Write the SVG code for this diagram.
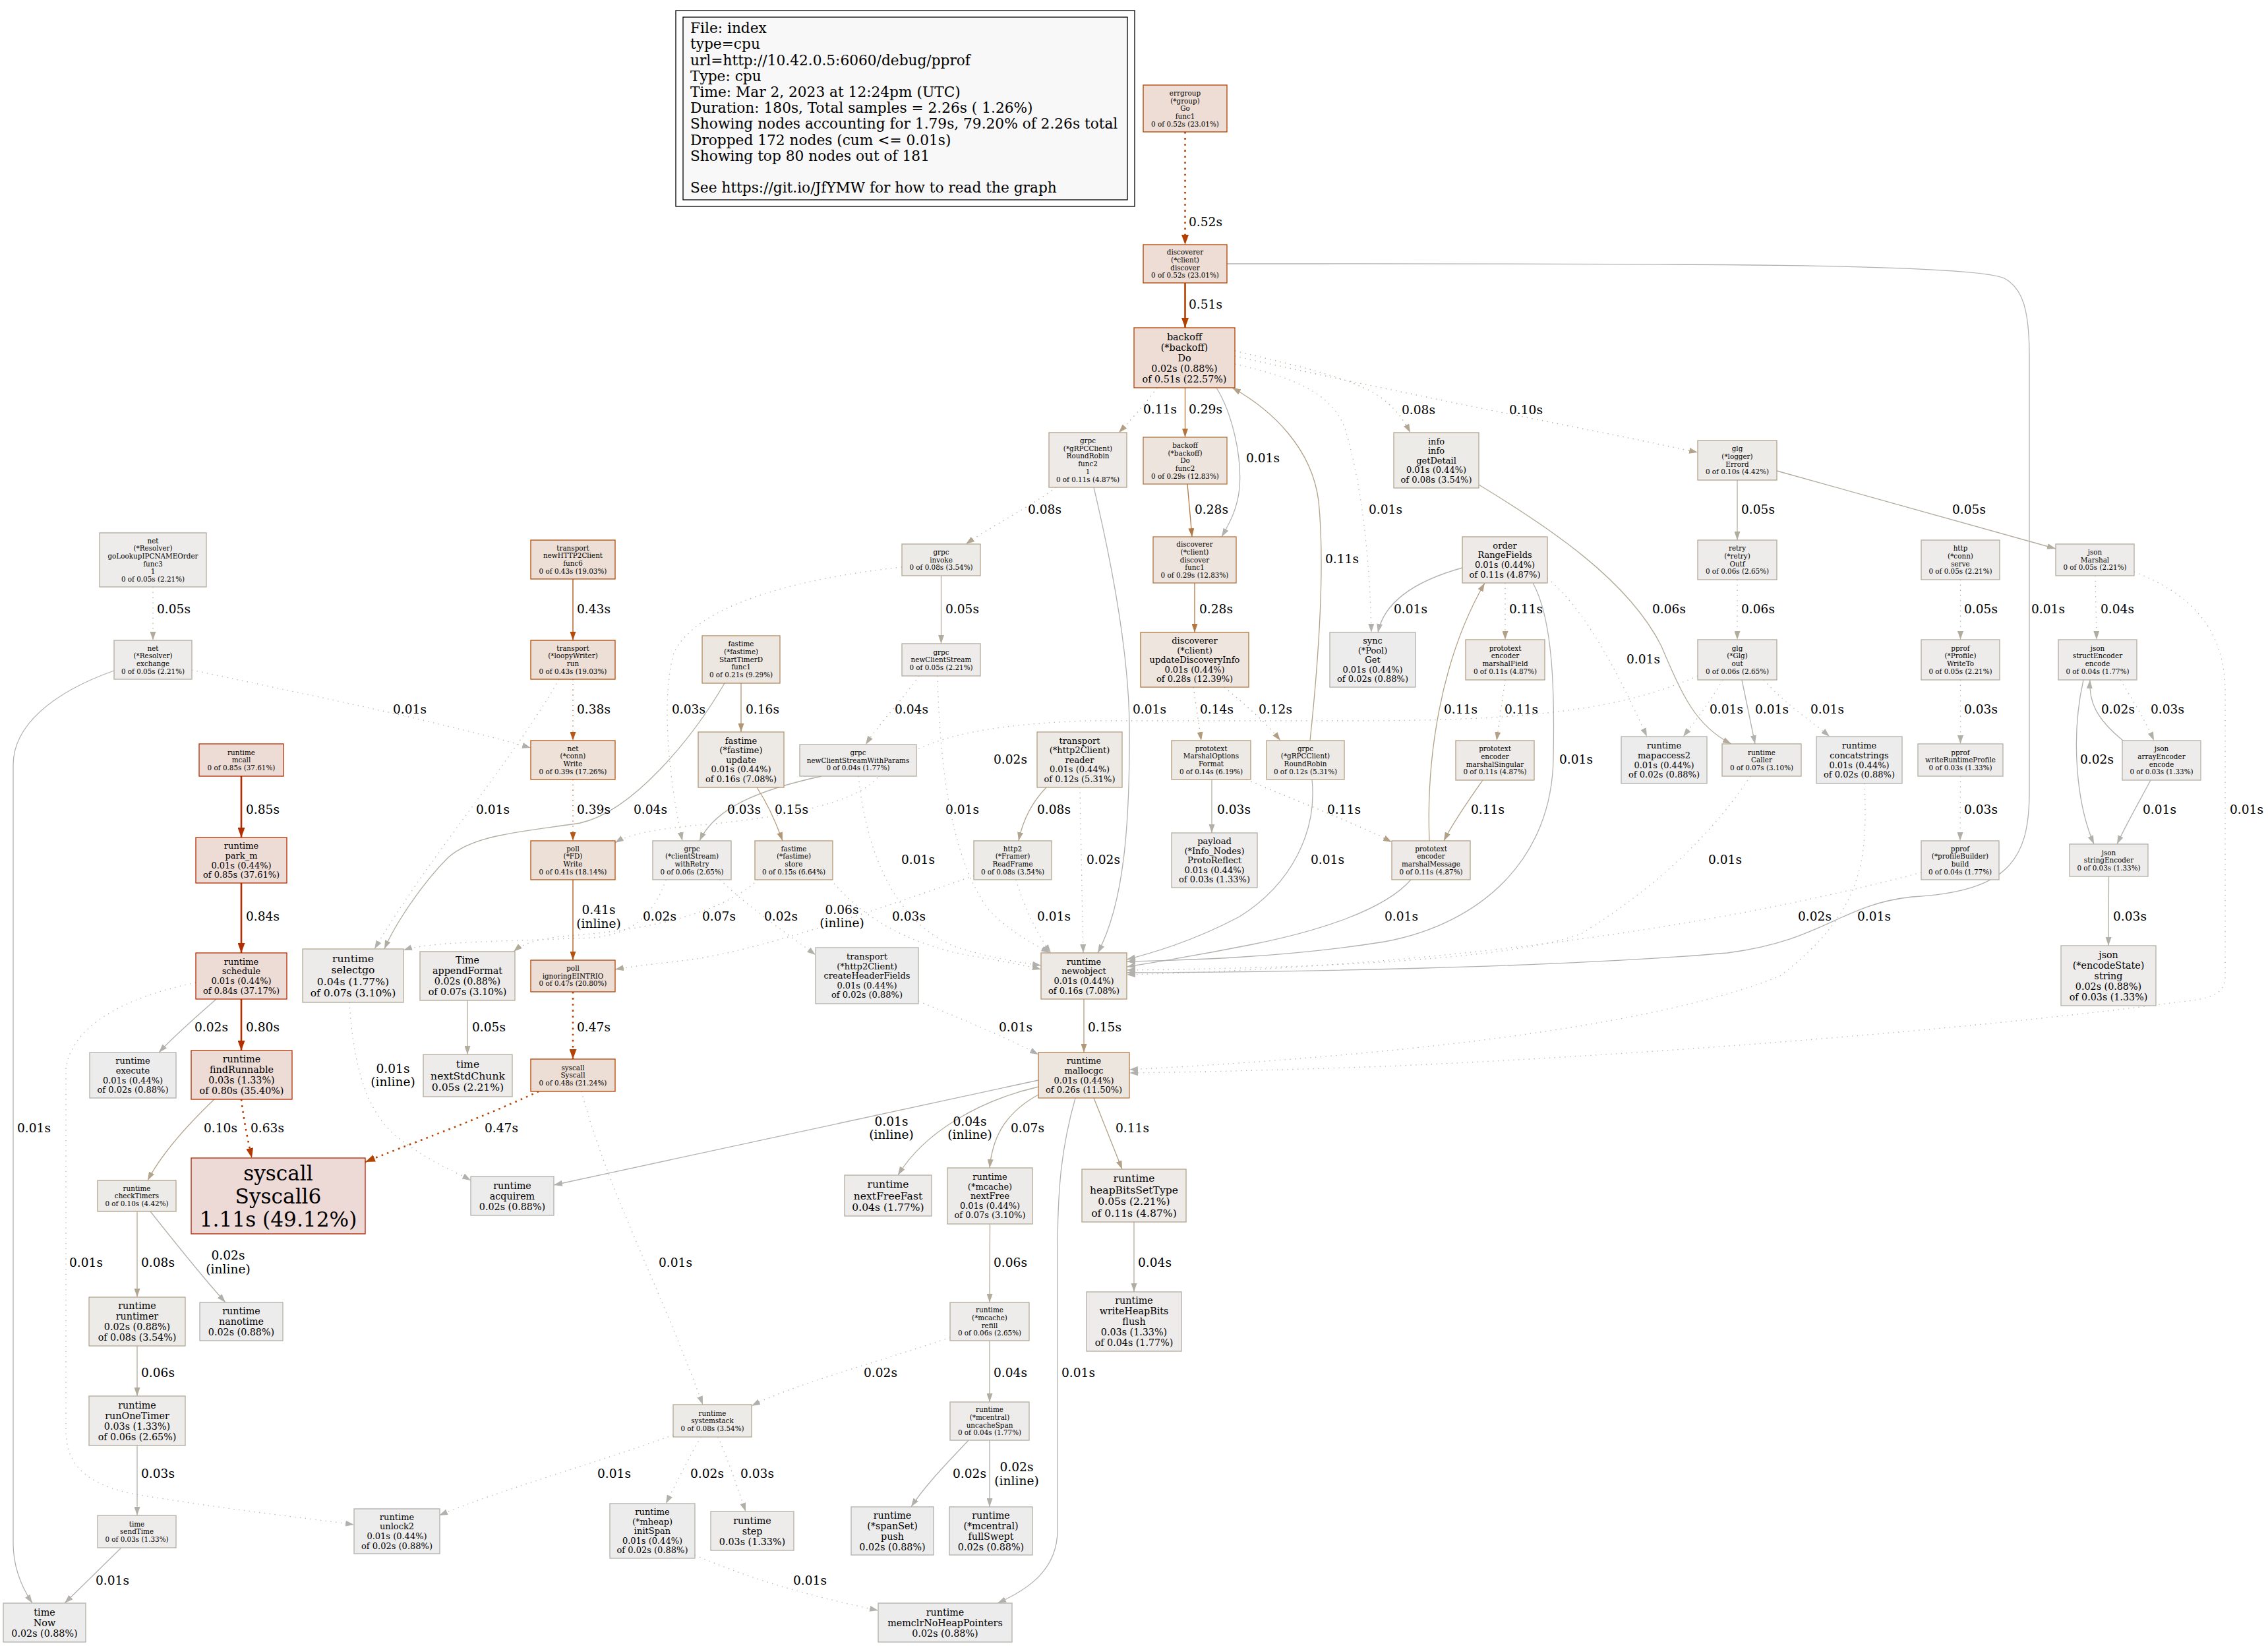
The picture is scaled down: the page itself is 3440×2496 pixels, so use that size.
<svg xmlns="http://www.w3.org/2000/svg" width="3440" height="2496" viewBox="0 0 3440 2496">
<style>
text{font-family:"DejaVu Serif","Liberation Serif",serif;fill:#000}
.node text{text-anchor:middle}
.node rect{stroke-width:1.3}
.f0{font-size:10.4px}.f1{font-size:13px}.f2{font-size:14.3px}.f3{font-size:15.6px}.f6{font-size:31.2px}
.lg{font-size:21.7px}
.el{font-size:18.6px}.elm{font-size:18.6px;text-anchor:middle}
.edge path{fill:none;stroke-width:1.3}
.edge path.w{stroke-width:2.6}
.edge path.d{stroke-dasharray:1.3 6.5}
.edge path.w.d{stroke-dasharray:2.6 6.5}
.s01{stroke:#b2b1ae;marker-end:url(#m01)}.s02{stroke:#b2b0aa;marker-end:url(#m02)}.s03{stroke:#b2afa6;marker-end:url(#m03)}
.s04{stroke:#b2ada2;marker-end:url(#m04)}.s05{stroke:#b2ac9e;marker-end:url(#m05)}.s06{stroke:#b2aa9a;marker-end:url(#m06)}
.s07{stroke:#b2a896;marker-end:url(#m07)}.s08{stroke:#b2a692;marker-end:url(#m08)}.s10{stroke:#b2a38b;marker-end:url(#m10)}
.s11{stroke:#b2a087;marker-end:url(#m11)}.s12{stroke:#b29e83;marker-end:url(#m12)}.s14{stroke:#b29a7b;marker-end:url(#m14)}
.s15{stroke:#b29877;marker-end:url(#m15)}.s16{stroke:#b29573;marker-end:url(#m16)}.s28{stroke:#b27743;marker-end:url(#m28)}
.s29{stroke:#b2743f;marker-end:url(#m29)}.s38{stroke:#b25a1c;marker-end:url(#m38)}.s39{stroke:#b25718;marker-end:url(#m39)}
.s41{stroke:#b25110;marker-end:url(#m41)}.s43{stroke:#b24b08;marker-end:url(#m43)}
.s47{stroke:#b24300;marker-end:url(#m47)}.s51{stroke:#b24000;marker-end:url(#m51)}.s52{stroke:#b23f00;marker-end:url(#m52)}
.s63{stroke:#b23800;marker-end:url(#m63)}.s80{stroke:#b22f00;marker-end:url(#m80)}.s85{stroke:#b22d00;marker-end:url(#m85)}
.k111 rect{fill:#edd9d5;stroke:#b22200}.k85 rect{fill:#eddbd5;stroke:#b22d00}.k80 rect{fill:#eddbd5;stroke:#b22f00}
.k52 rect{fill:#edddd5;stroke:#b23f00}.k51 rect{fill:#edddd5;stroke:#b24000}.k48 rect{fill:#edded5;stroke:#b24200}
.k47 rect{fill:#edded5;stroke:#b24300}.k43 rect{fill:#eddfd6;stroke:#b24b08}.k41 rect{fill:#ede0d7;stroke:#b25110}
.k39 rect{fill:#ede1d8;stroke:#b25718}.k29 rect{fill:#ede4dd;stroke:#b2743f}.k28 rect{fill:#ede5de;stroke:#b27743}
.k26 rect{fill:#ede6df;stroke:#b27c4b}.k21 rect{fill:#ede7e2;stroke:#b2895f}.k16 rect{fill:#ede9e4;stroke:#b29573}
.k15 rect{fill:#ede9e5;stroke:#b29877}.k14 rect{fill:#ede9e5;stroke:#b29a7b}.k12 rect{fill:#edeae6;stroke:#b29e83}
.k11 rect{fill:#edeae7;stroke:#b2a087}.k10 rect{fill:#edebe7;stroke:#b2a38b}.k08 rect{fill:#edebe8;stroke:#b2a692}
.k07 rect{fill:#edebe9;stroke:#b2a896}.k06 rect{fill:#edecea;stroke:#b2aa9a}.k05 rect{fill:#edecea;stroke:#b2ac9e}
.k04 rect{fill:#edeceb;stroke:#b2ada2}.k03 rect{fill:#edeceb;stroke:#b2afa6}.k02 rect{fill:#edecec;stroke:#b2b0aa}
</style>
<defs>
<marker id="m01" viewBox="0 0 13 9" refX="13" refY="4.5" markerWidth="13" markerHeight="9" markerUnits="userSpaceOnUse" orient="auto"><path d="M0,0L13,4.5L0,9z" fill="#b2b1ae"/></marker>
<marker id="m02" viewBox="0 0 13 9" refX="13" refY="4.5" markerWidth="13" markerHeight="9" markerUnits="userSpaceOnUse" orient="auto"><path d="M0,0L13,4.5L0,9z" fill="#b2b0aa"/></marker>
<marker id="m03" viewBox="0 0 13 9" refX="13" refY="4.5" markerWidth="13" markerHeight="9" markerUnits="userSpaceOnUse" orient="auto"><path d="M0,0L13,4.5L0,9z" fill="#b2afa6"/></marker>
<marker id="m04" viewBox="0 0 13 9" refX="13" refY="4.5" markerWidth="13" markerHeight="9" markerUnits="userSpaceOnUse" orient="auto"><path d="M0,0L13,4.5L0,9z" fill="#b2ada2"/></marker>
<marker id="m05" viewBox="0 0 13 9" refX="13" refY="4.5" markerWidth="13" markerHeight="9" markerUnits="userSpaceOnUse" orient="auto"><path d="M0,0L13,4.5L0,9z" fill="#b2ac9e"/></marker>
<marker id="m06" viewBox="0 0 13 9" refX="13" refY="4.5" markerWidth="13" markerHeight="9" markerUnits="userSpaceOnUse" orient="auto"><path d="M0,0L13,4.5L0,9z" fill="#b2aa9a"/></marker>
<marker id="m07" viewBox="0 0 13 9" refX="13" refY="4.5" markerWidth="13" markerHeight="9" markerUnits="userSpaceOnUse" orient="auto"><path d="M0,0L13,4.5L0,9z" fill="#b2a896"/></marker>
<marker id="m08" viewBox="0 0 13 9" refX="13" refY="4.5" markerWidth="13" markerHeight="9" markerUnits="userSpaceOnUse" orient="auto"><path d="M0,0L13,4.5L0,9z" fill="#b2a692"/></marker>
<marker id="m10" viewBox="0 0 13 9" refX="13" refY="4.5" markerWidth="13" markerHeight="9" markerUnits="userSpaceOnUse" orient="auto"><path d="M0,0L13,4.5L0,9z" fill="#b2a38b"/></marker>
<marker id="m11" viewBox="0 0 13 9" refX="13" refY="4.5" markerWidth="13" markerHeight="9" markerUnits="userSpaceOnUse" orient="auto"><path d="M0,0L13,4.5L0,9z" fill="#b2a087"/></marker>
<marker id="m12" viewBox="0 0 13 9" refX="13" refY="4.5" markerWidth="13" markerHeight="9" markerUnits="userSpaceOnUse" orient="auto"><path d="M0,0L13,4.5L0,9z" fill="#b29e83"/></marker>
<marker id="m14" viewBox="0 0 13 9" refX="13" refY="4.5" markerWidth="13" markerHeight="9" markerUnits="userSpaceOnUse" orient="auto"><path d="M0,0L13,4.5L0,9z" fill="#b29a7b"/></marker>
<marker id="m15" viewBox="0 0 13 9" refX="13" refY="4.5" markerWidth="13" markerHeight="9" markerUnits="userSpaceOnUse" orient="auto"><path d="M0,0L13,4.5L0,9z" fill="#b29877"/></marker>
<marker id="m16" viewBox="0 0 13 9" refX="13" refY="4.5" markerWidth="13" markerHeight="9" markerUnits="userSpaceOnUse" orient="auto"><path d="M0,0L13,4.5L0,9z" fill="#b29573"/></marker>
<marker id="m28" viewBox="0 0 13 9" refX="13" refY="4.5" markerWidth="13" markerHeight="9" markerUnits="userSpaceOnUse" orient="auto"><path d="M0,0L13,4.5L0,9z" fill="#b27743"/></marker>
<marker id="m29" viewBox="0 0 13 9" refX="13" refY="4.5" markerWidth="13" markerHeight="9" markerUnits="userSpaceOnUse" orient="auto"><path d="M0,0L13,4.5L0,9z" fill="#b2743f"/></marker>
<marker id="m38" viewBox="0 0 13 9" refX="13" refY="4.5" markerWidth="13" markerHeight="9" markerUnits="userSpaceOnUse" orient="auto"><path d="M0,0L13,4.5L0,9z" fill="#b25a1c"/></marker>
<marker id="m39" viewBox="0 0 13 9" refX="13" refY="4.5" markerWidth="13" markerHeight="9" markerUnits="userSpaceOnUse" orient="auto"><path d="M0,0L13,4.5L0,9z" fill="#b25718"/></marker>
<marker id="m41" viewBox="0 0 13 9" refX="13" refY="4.5" markerWidth="13" markerHeight="9" markerUnits="userSpaceOnUse" orient="auto"><path d="M0,0L13,4.5L0,9z" fill="#b25110"/></marker>
<marker id="m43" viewBox="0 0 13 9" refX="13" refY="4.5" markerWidth="13" markerHeight="9" markerUnits="userSpaceOnUse" orient="auto"><path d="M0,0L13,4.5L0,9z" fill="#b24b08"/></marker>
<marker id="m47" viewBox="0 0 15 11" refX="15" refY="5.5" markerWidth="15" markerHeight="11" markerUnits="userSpaceOnUse" orient="auto"><path d="M0,0L15,5.5L0,11z" fill="#b24300"/></marker>
<marker id="m51" viewBox="0 0 15 11" refX="15" refY="5.5" markerWidth="15" markerHeight="11" markerUnits="userSpaceOnUse" orient="auto"><path d="M0,0L15,5.5L0,11z" fill="#b24000"/></marker>
<marker id="m52" viewBox="0 0 15 11" refX="15" refY="5.5" markerWidth="15" markerHeight="11" markerUnits="userSpaceOnUse" orient="auto"><path d="M0,0L15,5.5L0,11z" fill="#b23f00"/></marker>
<marker id="m63" viewBox="0 0 15 11" refX="15" refY="5.5" markerWidth="15" markerHeight="11" markerUnits="userSpaceOnUse" orient="auto"><path d="M0,0L15,5.5L0,11z" fill="#b23800"/></marker>
<marker id="m80" viewBox="0 0 15 11" refX="15" refY="5.5" markerWidth="15" markerHeight="11" markerUnits="userSpaceOnUse" orient="auto"><path d="M0,0L15,5.5L0,11z" fill="#b22f00"/></marker>
<marker id="m85" viewBox="0 0 15 11" refX="15" refY="5.5" markerWidth="15" markerHeight="11" markerUnits="userSpaceOnUse" orient="auto"><path d="M0,0L15,5.5L0,11z" fill="#b22d00"/></marker>
</defs>
<rect x="0" y="0" width="3440" height="2496" fill="#ffffff"/>
<g id="legend">
<rect x="1025" y="16" width="696" height="297" fill="#ffffff" stroke="#000" stroke-width="1.3"/>
<rect x="1036" y="26" width="674" height="277" fill="#f8f8f8" stroke="#000" stroke-width="1.3"/>
<text class="lg"><tspan x="1047" y="50.2">File: index</tspan><tspan x="1047" y="74.4">type=cpu</tspan><tspan x="1047" y="98.6">url=http://10.42.0.5:6060/debug/pprof</tspan><tspan x="1047" y="122.8">Type: cpu</tspan><tspan x="1047" y="147">Time: Mar 2, 2023 at 12:24pm (UTC)</tspan><tspan x="1047" y="171.2">Duration: 180s, Total samples = 2.26s ( 1.26%)</tspan><tspan x="1047" y="195.4">Showing nodes accounting for 1.79s, 79.20% of 2.26s total</tspan><tspan x="1047" y="219.6">Dropped 172 nodes (cum &lt;= 0.01s)</tspan><tspan x="1047" y="243.8">Showing top 80 nodes out of 181</tspan><tspan x="1047" y="292.2">See https://git.io/JfYMW for how to read the graph</tspan></text>
</g>
<g id="connectors">
<g class="edge"><path class="s52 w d" d="M1797.5,200 L1797.5,371"/><text class="el" x="1803" y="342.7">0.52s</text></g>
<g class="edge"><path class="s51 w" d="M1797.5,429 L1797.5,497"/><text class="el" x="1803" y="467.7">0.51s</text></g>
<g class="edge"><path class="s01" d="M1861,400 C2500,400 2990,398 3040,422 C3068,437 3078,470 3078,540 L3078,1200 C3078,1300 3050,1352 2900,1360 C2790,1372 2770,1425 2620,1445 C2350,1468 1950,1474 1709,1475"/><text class="el" x="3081" y="929.7">0.01s</text></g>
<g class="edge"><path class="s11 d" d="M1755,588 C1738,612 1712,640 1697,656"/><text class="el" x="1734" y="626.7">0.11s</text></g>
<g class="edge"><path class="s29" d="M1797.5,588 L1797.5,663"/><text class="el" x="1803" y="626.7">0.29s</text></g>
<g class="edge"><path class="s01" d="M1845,588 C1868,625 1884,690 1880,740 C1877,772 1864,795 1853,814"/><text class="el" x="1890" y="700.7">0.01s</text></g>
<g class="edge"><path class="s11" d="M1987,1123 C2000,1000 2010,860 2000,760 C1990,680 1930,622 1869,588"/><text class="el" x="2010" y="853.7">0.11s</text></g>
<g class="edge"><path class="s08 d" d="M1873,532 C1980,558 2060,575 2100,607 C2118,622 2130,638 2139,656"/><text class="el" x="2126" y="627.7">0.08s</text></g>
<g class="edge"><path class="s10 d" d="M1873,540 C2050,580 2300,630 2450,660 C2510,672 2545,680 2575,686"/><text class="el" x="2289" y="627.7">0.10s</text></g>
<g class="edge"><path class="s01 d" d="M1873,552 C1960,572 2020,595 2040,650 C2065,730 2078,850 2080,959"/><text class="el" x="2076" y="778.7">0.01s</text></g>
<g class="edge"><path class="s08 d" d="M1602,739 C1560,770 1500,800 1465,825"/><text class="el" x="1559" y="778.7">0.08s</text></g>
<g class="edge"><path class="s01" d="M1659,739 C1690,870 1712,1000 1713,1100 C1714,1250 1705,1370 1665,1445"/><text class="el" x="1718" y="1081.7">0.01s</text></g>
<g class="edge"><path class="s28" d="M1801,734 L1808,814"/><text class="el" x="1812" y="778.7">0.28s</text></g>
<g class="edge"><path class="s28" d="M1812,884 L1812,959"/><text class="el" x="1819" y="929.7">0.28s</text></g>
<g class="edge"><path class="s06" d="M2243,735 C2350,800 2470,880 2520,980 C2550,1050 2570,1100 2626,1128"/><text class="el" x="2506" y="929.7">0.06s</text></g>
<g class="edge"><path class="s05" d="M2635,728 L2635,819"/><text class="el" x="2641" y="778.7">0.05s</text></g>
<g class="edge"><path class="s05" d="M2695,714 L3118,832"/><text class="el" x="2961" y="778.7">0.05s</text></g>
<g class="edge"><path class="s06 d" d="M2635,879 L2635,970"/><text class="el" x="2641" y="929.7">0.06s</text></g>
<g class="edge"><path class="s05 d" d="M2973.5,879 L2973.5,970"/><text class="el" x="2979" y="929.7">0.05s</text></g>
<g class="edge"><path class="s04 d" d="M3178,873 L3180,970"/><text class="el" x="3186" y="929.7">0.04s</text></g>
<g class="edge"><path class="s01 d" d="M3237,867 C3320,900 3375,950 3375,1050 L3375,1480 C3375,1510 3350,1515 3300,1520 C3000,1560 2500,1600 2100,1617 C1900,1624 1790,1626 1713,1627"/><text class="el" x="3382" y="1233.7">0.01s</text></g>
<g class="edge"><path class="s01" d="M2218,861 C2150,880 2100,910 2090,959"/><text class="el" x="2114" y="929.7">0.01s</text></g>
<g class="edge"><path class="s11 d" d="M2283,884 L2283,970"/><text class="el" x="2289" y="929.7">0.11s</text></g>
<g class="edge"><path class="s01 d" d="M2347,877 C2400,920 2450,1010 2498,1117"/><text class="el" x="2467" y="1005.7">0.01s</text></g>
<g class="edge"><path class="s01" d="M2325,884 C2356,940 2358,1050 2356,1150 C2354,1300 2250,1400 2100,1428 C1950,1452 1800,1456 1709,1458"/><text class="el" x="2365" y="1157.7">0.01s</text></g>
<g class="edge"><path class="s02 d" d="M2575,1025 C2450,1080 2300,1093 2050,1093 L1650,1093 C1450,1100 1380,1130 1330,1180 C1300,1215 1200,1240 1050,1252 C990,1258 952,1266 933,1278"/><text class="el" x="1507" y="1157.7">0.02s</text></g>
<g class="edge"><path class="s01 d" d="M2613,1031 C2590,1070 2570,1095 2553,1117"/><text class="el" x="2593" y="1081.7">0.01s</text></g>
<g class="edge"><path class="s01" d="M2642,1031 L2662,1128"/><text class="el" x="2662" y="1081.7">0.01s</text></g>
<g class="edge"><path class="s01 d" d="M2675,1031 C2710,1070 2750,1095 2775,1117"/><text class="el" x="2746" y="1081.7">0.01s</text></g>
<g class="edge"><path class="s03 d" d="M2973.5,1031 L2973.5,1128"/><text class="el" x="2979" y="1081.7">0.03s</text></g>
<g class="edge"><path class="s03 d" d="M3216,1031 C3240,1070 3255,1095 3267,1123"/><text class="el" x="3262" y="1081.7">0.03s</text></g>
<g class="edge"><path class="s02" d="M3220,1123 C3180,1090 3168,1065 3170,1031"/><text class="el" x="3187" y="1081.7">0.02s</text></g>
<g class="edge"><path class="s02" d="M3160,1031 C3140,1120 3150,1220 3176,1280"/><text class="el" x="3155" y="1157.7">0.02s</text></g>
<g class="edge"><path class="s01" d="M3262,1183 C3245,1215 3225,1250 3211,1280"/><text class="el" x="3250" y="1233.7">0.01s</text></g>
<g class="edge"><path class="s03 d" d="M2973.5,1177 L2973,1275"/><text class="el" x="2979" y="1233.7">0.03s</text></g>
<g class="edge"><path class="s03" d="M3198.5,1329 L3198,1434"/><text class="el" x="3205" y="1395.7">0.03s</text></g>
<g class="edge"><path class="s11 d" d="M2283,1031 L2270,1123"/><text class="el" x="2282" y="1081.7">0.11s</text></g>
<g class="edge"><path class="s11" d="M2249,1183 C2230,1210 2205,1245 2190,1275"/><text class="el" x="2231" y="1233.7">0.11s</text></g>
<g class="edge"><path class="s11" d="M2168,1275 C2163,1150 2185,1000 2252,884"/><text class="el" x="2190" y="1081.7">0.11s</text></g>
<g class="edge"><path class="s11 d" d="M1890,1182 C1980,1220 2060,1250 2111,1277"/><text class="el" x="2013" y="1233.7">0.11s</text></g>
<g class="edge"><path class="s03" d="M1838,1182 L1838,1263"/><text class="el" x="1846" y="1233.7">0.03s</text></g>
<g class="edge"><path class="s14 d" d="M1810,1042 L1822,1123"/><text class="el" x="1820" y="1081.7">0.14s</text></g>
<g class="edge"><path class="s12 d" d="M1857,1042 C1890,1070 1920,1095 1942,1123"/><text class="el" x="1909" y="1081.7">0.12s</text></g>
<g class="edge"><path class="s01" d="M1990,1182 C1998,1260 1960,1340 1880,1390 C1820,1422 1760,1442 1709,1455"/><text class="el" x="1988" y="1309.7">0.01s</text></g>
<g class="edge"><path class="s01" d="M2140,1334 C2100,1380 2000,1412 1900,1432 C1820,1448 1760,1458 1709,1466"/><text class="el" x="2100" y="1395.7">0.01s</text></g>
<g class="edge"><path class="s01 d" d="M2655,1177 C2600,1260 2520,1340 2400,1415 C2300,1455 2000,1468 1709,1471"/><text class="el" x="2591" y="1309.7">0.01s</text></g>
<g class="edge"><path class="s02 d" d="M2914,1323 C2700,1380 2300,1462 1709,1478"/><text class="el" x="2727" y="1395.7">0.02s</text></g>
<g class="edge"><path class="s01 d" d="M2828,1188 C2832,1300 2830,1380 2700,1480 C2500,1560 2100,1602 1713,1622"/><text class="el" x="2817" y="1395.7">0.01s</text></g>
<g class="edge"><path class="s16" d="M1124,1036 L1124,1110"/><text class="el" x="1131" y="1081.7">0.16s</text></g>
<g class="edge"><path class="s04" d="M1099,1036 C1050,1120 960,1230 880,1248 C790,1262 720,1265 680,1300 C640,1340 600,1400 583,1439"/><text class="el" x="961" y="1233.7">0.04s</text></g>
<g class="edge"><path class="s15" d="M1148,1194 C1165,1220 1178,1250 1187,1275"/><text class="el" x="1175" y="1233.7">0.15s</text></g>
<g class="edge"><path class="s05" d="M1427.5,873 L1427.5,976"/><text class="el" x="1434" y="929.7">0.05s</text></g>
<g class="edge"><path class="s03 d" d="M1368,860 C1200,878 1055,920 1022,990 C1005,1050 1010,1160 1035,1275"/><text class="el" x="1019" y="1081.7">0.03s</text></g>
<g class="edge"><path class="s04 d" d="M1394,1025 C1370,1060 1335,1095 1313,1129"/><text class="el" x="1357" y="1081.7">0.04s</text></g>
<g class="edge"><path class="s01 d" d="M1422,1025 C1425,1150 1440,1300 1500,1380 C1540,1420 1570,1432 1592,1445"/><text class="el" x="1434" y="1233.7">0.01s</text></g>
<g class="edge"><path class="s03" d="M1246,1177 C1150,1198 1085,1225 1061,1275"/><text class="el" x="1103" y="1233.7">0.03s</text></g>
<g class="edge"><path class="s01 d" d="M1302,1177 C1315,1300 1360,1400 1450,1436 C1500,1452 1550,1460 1579,1464"/><text class="el" x="1367" y="1309.7">0.01s</text></g>
<g class="edge"><path class="s08" d="M1587,1194 C1562,1220 1550,1250 1545,1275"/><text class="el" x="1573" y="1233.7">0.08s</text></g>
<g class="edge"><path class="s02 d" d="M1638,1194 L1643,1445"/><text class="el" x="1648" y="1309.7">0.02s</text></g>
<g class="edge"><path class="s01 d" d="M1541,1334 C1555,1380 1575,1420 1594,1445"/><text class="el" x="1573" y="1395.7">0.01s</text></g>
<g class="edge"><path class="s06 d" d="M1477,1328 C1300,1390 1150,1440 1050,1455 C990,1462 955,1466 933,1470"/><text class="elm" x="1277" y="1385.7">0.06s</text><text class="elm" x="1277" y="1405.7">(inline)</text></g>
<g class="edge"><path class="s07 d" d="M1150,1334 C1100,1380 1000,1410 850,1420 C810,1425 792,1432 779,1443"/><text class="el" x="1065" y="1395.7">0.07s</text></g>
<g class="edge"><path class="s02 d" d="M1010,1334 C990,1390 960,1415 900,1422 C750,1428 650,1428 612,1441"/><text class="el" x="975" y="1395.7">0.02s</text></g>
<g class="edge"><path class="s02 d" d="M1092,1334 C1140,1380 1200,1420 1237,1448"/><text class="el" x="1159" y="1395.7">0.02s</text></g>
<g class="edge"><path class="s03 d" d="M1260,1334 C1300,1380 1350,1420 1450,1445 C1500,1455 1550,1462 1579,1470"/><text class="el" x="1353" y="1395.7">0.03s</text></g>
<g class="edge"><path class="s01 d" d="M1393,1518 C1470,1550 1530,1575 1575,1599"/><text class="el" x="1515" y="1563.7">0.01s</text></g>
<g class="edge"><path class="s15" d="M1644,1515 L1644,1596"/><text class="el" x="1650" y="1563.7">0.15s</text></g>
<g class="edge"><path class="s01" d="M1575,1638 L840,1797"/><text class="elm" x="1352" y="1706.7">0.01s</text><text class="elm" x="1352" y="1726.7">(inline)</text></g>
<g class="edge"><path class="s04" d="M1575,1648 C1480,1670 1400,1720 1362,1782"/><text class="elm" x="1471" y="1706.7">0.04s</text><text class="elm" x="1471" y="1726.7">(inline)</text></g>
<g class="edge"><path class="s07" d="M1575,1660 C1520,1690 1505,1730 1501,1771"/><text class="el" x="1533" y="1716.7">0.07s</text></g>
<g class="edge"><path class="s11" d="M1659,1665 L1702,1773"/><text class="el" x="1692" y="1716.7">0.11s</text></g>
<g class="edge"><path class="s01" d="M1631,1665 C1610,1740 1604,1800 1604,1900 L1604,2320 C1604,2380 1560,2410 1513,2431"/><text class="el" x="1610" y="2087.7">0.01s</text></g>
<g class="edge"><path class="s04" d="M1720,1853 L1720,1959"/><text class="el" x="1726" y="1920.7">0.04s</text></g>
<g class="edge"><path class="s06" d="M1501.5,1856 L1501,1975"/><text class="el" x="1507" y="1920.7">0.06s</text></g>
<g class="edge"><path class="s04" d="M1501,2033 L1501,2126"/><text class="el" x="1507" y="2087.7">0.04s</text></g>
<g class="edge"><path class="s02 d" d="M1441,2028 C1350,2060 1200,2100 1140,2132"/><text class="el" x="1310" y="2087.7">0.02s</text></g>
<g class="edge"><path class="s02" d="M1469,2184 C1440,2215 1405,2250 1382,2285"/><text class="el" x="1445" y="2240.7">0.02s</text></g>
<g class="edge"><path class="s02" d="M1501,2184 L1501,2285"/><text class="elm" x="1542" y="2230.7">0.02s</text><text class="elm" x="1542" y="2251.7">(inline)</text></g>
<g class="edge"><path class="s01 d" d="M1021,2176 C900,2220 750,2262 666,2298"/><text class="el" x="906" y="2240.7">0.01s</text></g>
<g class="edge"><path class="s02 d" d="M1063,2179 C1045,2210 1025,2250 1010,2280"/><text class="el" x="1047" y="2240.7">0.02s</text></g>
<g class="edge"><path class="s03 d" d="M1089,2179 C1105,2215 1120,2260 1131,2292"/><text class="el" x="1123" y="2240.7">0.03s</text></g>
<g class="edge"><path class="s01 d" d="M1054,2358 C1150,2400 1250,2425 1332,2442"/><text class="el" x="1203" y="2402.7">0.01s</text></g>
<g class="edge"><path class="s01 d" d="M882,1655 C920,1800 1000,1950 1066,2130"/><text class="el" x="999" y="1920.7">0.01s</text></g>
<g class="edge"><path class="s47 w d" d="M817,1655 C720,1700 620,1735 554,1762"/><text class="el" x="735" y="1716.7">0.47s</text></g>
<g class="edge"><path class="s47 w d" d="M869,1504 L869,1606"/><text class="el" x="875" y="1563.7">0.47s</text></g>
<g class="edge"><path class="s41" d="M869,1334 L869,1456"/><text class="elm" x="908" y="1385.7">0.41s</text><text class="elm" x="908" y="1406.7">(inline)</text></g>
<g class="edge"><path class="s39 d" d="M869,1182 L869,1275"/><text class="el" x="875" y="1233.7">0.39s</text></g>
<g class="edge"><path class="s38 d" d="M869,1030 L869,1123"/><text class="el" x="875" y="1081.7">0.38s</text></g>
<g class="edge"><path class="s43" d="M869,878 L869,971"/><text class="el" x="875" y="929.7">0.43s</text></g>
<g class="edge"><path class="s01 d" d="M848,1030 C780,1150 650,1300 568,1439"/><text class="el" x="722" y="1233.7">0.01s</text></g>
<g class="edge"><path class="s01 d" d="M291,1016 C450,1050 650,1090 805,1134"/><text class="el" x="596" y="1081.7">0.01s</text></g>
<g class="edge"><path class="s05 d" d="M232,890 L232,971"/><text class="el" x="238" y="929.7">0.05s</text></g>
<g class="edge"><path class="s01" d="M173,1017 C80,1050 20,1100 20,1160 L20,2340 C20,2380 35,2410 49,2431"/><text class="el" x="26" y="1716.7">0.01s</text></g>
<g class="edge"><path class="s85 w" d="M366,1177 L366,1270"/><text class="el" x="373" y="1233.7">0.85s</text></g>
<g class="edge"><path class="s85 w" d="M366,1339 L366,1445"/><text class="el" x="373" y="1395.7">0.84s</text></g>
<g class="edge"><path class="s80 w" d="M366,1515 L366,1593"/><text class="el" x="373" y="1563.7">0.80s</text></g>
<g class="edge"><path class="s02" d="M328,1515 C300,1540 265,1570 241,1596"/><text class="el" x="295" y="1563.7">0.02s</text></g>
<g class="edge"><path class="s01 d" d="M297,1490 C200,1510 110,1550 100,1620 L100,2170 C100,2220 130,2250 200,2265 C350,2290 450,2300 537,2312"/><text class="el" x="105" y="1920.7">0.01s</text></g>
<g class="edge"><path class="s63 w d" d="M366,1667 C370,1700 376,1730 382,1756"/><text class="el" x="380" y="1716.7">0.63s</text></g>
<g class="edge"><path class="s10" d="M325,1667 C280,1710 245,1750 224,1790"/><text class="el" x="309" y="1716.7">0.10s</text></g>
<g class="edge"><path class="s08" d="M208,1837 L208,1967"/><text class="el" x="214" y="1920.7">0.08s</text></g>
<g class="edge"><path class="s02" d="M228,1837 C270,1890 310,1940 342,1975"/><text class="elm" x="346" y="1909.7">0.02s</text><text class="elm" x="346" y="1930.7">(inline)</text></g>
<g class="edge"><path class="s06" d="M208,2041 L208,2117"/><text class="el" x="214" y="2087.7">0.06s</text></g>
<g class="edge"><path class="s03" d="M208,2192 L208,2298"/><text class="el" x="214" y="2240.7">0.03s</text></g>
<g class="edge"><path class="s01" d="M184,2347 C150,2380 120,2410 98,2431"/><text class="el" x="145" y="2402.7">0.01s</text></g>
<g class="edge"><path class="s01 d" d="M530,1520 C535,1600 550,1680 600,1722 C650,1762 690,1776 714,1790"/><text class="elm" x="596" y="1626.7">0.01s</text><text class="elm" x="596" y="1646.7">(inline)</text></g>
<g class="edge"><path class="s05" d="M709,1517 L709,1599"/><text class="el" x="716" y="1563.7">0.05s</text></g>
</g>
<g id="nodes">
<g id="n-errgroup" class="node k52"><rect x="1734" y="129" width="127" height="71"/><text class="f0"><tspan x="1797.5" y="144.8">errgroup</tspan><tspan x="1797.5" y="156.5">(*group)</tspan><tspan x="1797.5" y="168.2">Go</tspan><tspan x="1797.5" y="179.9">func1</tspan><tspan x="1797.5" y="191.6">0 of 0.52s (23.01%)</tspan></text></g>
<g id="n-discover" class="node k52"><rect x="1734" y="371" width="127" height="58"/><text class="f0"><tspan x="1797.5" y="386.2">discoverer</tspan><tspan x="1797.5" y="397.9">(*client)</tspan><tspan x="1797.5" y="409.6">discover</tspan><tspan x="1797.5" y="421.3">0 of 0.52s (23.01%)</tspan></text></g>
<g id="n-backoffDo" class="node k51"><rect x="1720" y="497" width="153" height="91"/><text class="f2"><tspan x="1796.5" y="515.6">backoff</tspan><tspan x="1796.5" y="531.6">(*backoff)</tspan><tspan x="1796.5" y="547.6">Do</tspan><tspan x="1796.5" y="563.6">0.02s (0.88%)</tspan><tspan x="1796.5" y="579.6">of 0.51s (22.57%)</tspan></text></g>
<g id="n-rrfunc2" class="node k11"><rect x="1591" y="656" width="118" height="83"/><text class="f0"><tspan x="1650" y="672">grpc</tspan><tspan x="1650" y="683.7">(*gRPCClient)</tspan><tspan x="1650" y="695.4">RoundRobin</tspan><tspan x="1650" y="707.1">func2</tspan><tspan x="1650" y="718.8">1</tspan><tspan x="1650" y="730.5">0 of 0.11s (4.87%)</tspan></text></g>
<g id="n-boDoFunc2" class="node k29"><rect x="1734" y="663" width="127" height="71"/><text class="f0"><tspan x="1797.5" y="678.8">backoff</tspan><tspan x="1797.5" y="690.5">(*backoff)</tspan><tspan x="1797.5" y="702.2">Do</tspan><tspan x="1797.5" y="713.9">func2</tspan><tspan x="1797.5" y="725.6">0 of 0.29s (12.83%)</tspan></text></g>
<g id="n-info" class="node k08"><rect x="2114" y="656" width="129" height="84"/><text class="f1"><tspan x="2178.5" y="673.5">info</tspan><tspan x="2178.5" y="688.1">info</tspan><tspan x="2178.5" y="702.7">getDetail</tspan><tspan x="2178.5" y="717.3">0.01s (0.44%)</tspan><tspan x="2178.5" y="731.9">of 0.08s (3.54%)</tspan></text></g>
<g id="n-glgErrord" class="node k10"><rect x="2575" y="668" width="120" height="60"/><text class="f0"><tspan x="2635" y="684.2">glg</tspan><tspan x="2635" y="695.9">(*logger)</tspan><tspan x="2635" y="707.6">Errord</tspan><tspan x="2635" y="719.3">0 of 0.10s (4.42%)</tspan></text></g>
<g id="n-netGoLookup" class="node k05"><rect x="151" y="808" width="162" height="82"/><text class="f0"><tspan x="232" y="823.5">net</tspan><tspan x="232" y="835.2">(*Resolver)</tspan><tspan x="232" y="846.9">goLookupIPCNAMEOrder</tspan><tspan x="232" y="858.6">func3</tspan><tspan x="232" y="870.3">1</tspan><tspan x="232" y="882">0 of 0.05s (2.21%)</tspan></text></g>
<g id="n-transNew" class="node k43"><rect x="805" y="819" width="128" height="59"/><text class="f0"><tspan x="869" y="834.7">transport</tspan><tspan x="869" y="846.4">newHTTP2Client</tspan><tspan x="869" y="858.1">func6</tspan><tspan x="869" y="869.8">0 of 0.43s (19.03%)</tspan></text></g>
<g id="n-grpcInvoke" class="node k08"><rect x="1368" y="825" width="119" height="48"/><text class="f0"><tspan x="1427.5" y="841">grpc</tspan><tspan x="1427.5" y="852.7">invoke</tspan><tspan x="1427.5" y="864.4">0 of 0.08s (3.54%)</tspan></text></g>
<g id="n-discFunc1" class="node k29"><rect x="1749" y="814" width="126" height="70"/><text class="f0"><tspan x="1812" y="829.3">discoverer</tspan><tspan x="1812" y="841">(*client)</tspan><tspan x="1812" y="852.7">discover</tspan><tspan x="1812" y="864.4">func1</tspan><tspan x="1812" y="876.1">0 of 0.29s (12.83%)</tspan></text></g>
<g id="n-order" class="node k11"><rect x="2218" y="814" width="129" height="70"/><text class="f1"><tspan x="2282.5" y="831.8">order</tspan><tspan x="2282.5" y="846.4">RangeFields</tspan><tspan x="2282.5" y="861">0.01s (0.44%)</tspan><tspan x="2282.5" y="875.6">of 0.11s (4.87%)</tspan></text></g>
<g id="n-retry" class="node k06"><rect x="2575" y="819" width="120" height="60"/><text class="f0"><tspan x="2635" y="835.2">retry</tspan><tspan x="2635" y="846.9">(*retry)</tspan><tspan x="2635" y="858.6">Outf</tspan><tspan x="2635" y="870.3">0 of 0.06s (2.65%)</tspan></text></g>
<g id="n-http" class="node k05"><rect x="2914" y="819" width="119" height="60"/><text class="f0"><tspan x="2973.5" y="835.2">http</tspan><tspan x="2973.5" y="846.9">(*conn)</tspan><tspan x="2973.5" y="858.6">serve</tspan><tspan x="2973.5" y="870.3">0 of 0.05s (2.21%)</tspan></text></g>
<g id="n-jsonMarshal" class="node k05"><rect x="3118" y="825" width="119" height="48"/><text class="f0"><tspan x="3177.5" y="841">json</tspan><tspan x="3177.5" y="852.7">Marshal</tspan><tspan x="3177.5" y="864.4">0 of 0.05s (2.21%)</tspan></text></g>
<g id="n-fastimeStart" class="node k21"><rect x="1065" y="964" width="118" height="72"/><text class="f0"><tspan x="1124" y="980.3">fastime</tspan><tspan x="1124" y="992">(*fastime)</tspan><tspan x="1124" y="1003.7">StartTimerD</tspan><tspan x="1124" y="1015.4">func1</tspan><tspan x="1124" y="1027.1">0 of 0.21s (9.29%)</tspan></text></g>
<g id="n-netExchange" class="node k05"><rect x="173" y="971" width="118" height="59"/><text class="f0"><tspan x="232" y="986.7">net</tspan><tspan x="232" y="998.4">(*Resolver)</tspan><tspan x="232" y="1010.1">exchange</tspan><tspan x="232" y="1021.8">0 of 0.05s (2.21%)</tspan></text></g>
<g id="n-loopy" class="node k43"><rect x="805" y="971" width="128" height="59"/><text class="f0"><tspan x="869" y="986.7">transport</tspan><tspan x="869" y="998.4">(*loopyWriter)</tspan><tspan x="869" y="1010.1">run</tspan><tspan x="869" y="1021.8">0 of 0.43s (19.03%)</tspan></text></g>
<g id="n-newClientStream" class="node k05"><rect x="1368" y="976" width="119" height="49"/><text class="f0"><tspan x="1427.5" y="992.5">grpc</tspan><tspan x="1427.5" y="1004.2">newClientStream</tspan><tspan x="1427.5" y="1015.9">0 of 0.05s (2.21%)</tspan></text></g>
<g id="n-updateDisc" class="node k28"><rect x="1730" y="959" width="164" height="83"/><text class="f1"><tspan x="1812" y="976">discoverer</tspan><tspan x="1812" y="990.6">(*client)</tspan><tspan x="1812" y="1005.2">updateDiscoveryInfo</tspan><tspan x="1812" y="1019.8">0.01s (0.44%)</tspan><tspan x="1812" y="1034.4">of 0.28s (12.39%)</tspan></text></g>
<g id="n-syncPool" class="node k02"><rect x="2017" y="959" width="130" height="83"/><text class="f1"><tspan x="2082" y="976">sync</tspan><tspan x="2082" y="990.6">(*Pool)</tspan><tspan x="2082" y="1005.2">Get</tspan><tspan x="2082" y="1019.8">0.01s (0.44%)</tspan><tspan x="2082" y="1034.4">of 0.02s (0.88%)</tspan></text></g>
<g id="n-marshalField" class="node k11"><rect x="2223" y="970" width="120" height="61"/><text class="f0"><tspan x="2283" y="986.7">prototext</tspan><tspan x="2283" y="998.4">encoder</tspan><tspan x="2283" y="1010.1">marshalField</tspan><tspan x="2283" y="1021.8">0 of 0.11s (4.87%)</tspan></text></g>
<g id="n-glgOut" class="node k06"><rect x="2575" y="970" width="120" height="61"/><text class="f0"><tspan x="2635" y="986.7">glg</tspan><tspan x="2635" y="998.4">(*Glg)</tspan><tspan x="2635" y="1010.1">out</tspan><tspan x="2635" y="1021.8">0 of 0.06s (2.65%)</tspan></text></g>
<g id="n-pprofWriteTo" class="node k05"><rect x="2914" y="970" width="119" height="61"/><text class="f0"><tspan x="2973.5" y="986.7">pprof</tspan><tspan x="2973.5" y="998.4">(*Profile)</tspan><tspan x="2973.5" y="1010.1">WriteTo</tspan><tspan x="2973.5" y="1021.8">0 of 0.05s (2.21%)</tspan></text></g>
<g id="n-structEnc" class="node k04"><rect x="3122" y="970" width="119" height="61"/><text class="f0"><tspan x="3181.5" y="986.7">json</tspan><tspan x="3181.5" y="998.4">structEncoder</tspan><tspan x="3181.5" y="1010.1">encode</tspan><tspan x="3181.5" y="1021.8">0 of 0.04s (1.77%)</tspan></text></g>
<g id="n-mcall" class="node k85"><rect x="302" y="1128" width="128" height="49"/><text class="f0"><tspan x="366" y="1144.5">runtime</tspan><tspan x="366" y="1156.2">mcall</tspan><tspan x="366" y="1167.9">0 of 0.85s (37.61%)</tspan></text></g>
<g id="n-netConnWrite" class="node k39"><rect x="805" y="1123" width="128" height="59"/><text class="f0"><tspan x="869" y="1138.7">net</tspan><tspan x="869" y="1150.4">(*conn)</tspan><tspan x="869" y="1162.1">Write</tspan><tspan x="869" y="1173.8">0 of 0.39s (17.26%)</tspan></text></g>
<g id="n-fastimeUpdate" class="node k16"><rect x="1059" y="1110" width="130" height="84"/><text class="f1"><tspan x="1124" y="1127.5">fastime</tspan><tspan x="1124" y="1142.1">(*fastime)</tspan><tspan x="1124" y="1156.7">update</tspan><tspan x="1124" y="1171.3">0.01s (0.44%)</tspan><tspan x="1124" y="1185.9">of 0.16s (7.08%)</tspan></text></g>
<g id="n-ncsWithParams" class="node k04"><rect x="1213" y="1129" width="177" height="48"/><text class="f0"><tspan x="1301.5" y="1145">grpc</tspan><tspan x="1301.5" y="1156.7">newClientStreamWithParams</tspan><tspan x="1301.5" y="1168.4">0 of 0.04s (1.77%)</tspan></text></g>
<g id="n-reader" class="node k12"><rect x="1573" y="1110" width="129" height="84"/><text class="f1"><tspan x="1637.5" y="1127.5">transport</tspan><tspan x="1637.5" y="1142.1">(*http2Client)</tspan><tspan x="1637.5" y="1156.7">reader</tspan><tspan x="1637.5" y="1171.3">0.01s (0.44%)</tspan><tspan x="1637.5" y="1185.9">of 0.12s (5.31%)</tspan></text></g>
<g id="n-marshalOptFmt" class="node k14"><rect x="1777" y="1123" width="120" height="59"/><text class="f0"><tspan x="1837" y="1138.7">prototext</tspan><tspan x="1837" y="1150.4">MarshalOptions</tspan><tspan x="1837" y="1162.1">Format</tspan><tspan x="1837" y="1173.8">0 of 0.14s (6.19%)</tspan></text></g>
<g id="n-grpcRR" class="node k12"><rect x="1921" y="1123" width="118" height="59"/><text class="f0"><tspan x="1980" y="1138.7">grpc</tspan><tspan x="1980" y="1150.4">(*gRPCClient)</tspan><tspan x="1980" y="1162.1">RoundRobin</tspan><tspan x="1980" y="1173.8">0 of 0.12s (5.31%)</tspan></text></g>
<g id="n-marshalSingular" class="node k11"><rect x="2208" y="1123" width="119" height="60"/><text class="f0"><tspan x="2267.5" y="1139.2">prototext</tspan><tspan x="2267.5" y="1150.9">encoder</tspan><tspan x="2267.5" y="1162.6">marshalSingular</tspan><tspan x="2267.5" y="1174.3">0 of 0.11s (4.87%)</tspan></text></g>
<g id="n-mapaccess2" class="node k02"><rect x="2459" y="1117" width="130" height="71"/><text class="f1"><tspan x="2524" y="1135.3">runtime</tspan><tspan x="2524" y="1149.9">mapaccess2</tspan><tspan x="2524" y="1164.5">0.01s (0.44%)</tspan><tspan x="2524" y="1179.1">of 0.02s (0.88%)</tspan></text></g>
<g id="n-caller" class="node k07"><rect x="2612" y="1128" width="120" height="49"/><text class="f0"><tspan x="2672" y="1144.5">runtime</tspan><tspan x="2672" y="1156.2">Caller</tspan><tspan x="2672" y="1167.9">0 of 0.07s (3.10%)</tspan></text></g>
<g id="n-concatstrings" class="node k02"><rect x="2755" y="1117" width="130" height="71"/><text class="f1"><tspan x="2820" y="1135.3">runtime</tspan><tspan x="2820" y="1149.9">concatstrings</tspan><tspan x="2820" y="1164.5">0.01s (0.44%)</tspan><tspan x="2820" y="1179.1">of 0.02s (0.88%)</tspan></text></g>
<g id="n-writeRuntimeProfile" class="node k03"><rect x="2909" y="1128" width="129" height="49"/><text class="f0"><tspan x="2973.5" y="1144.5">pprof</tspan><tspan x="2973.5" y="1156.2">writeRuntimeProfile</tspan><tspan x="2973.5" y="1167.9">0 of 0.03s (1.33%)</tspan></text></g>
<g id="n-arrayEnc" class="node k03"><rect x="3219" y="1123" width="119" height="60"/><text class="f0"><tspan x="3278.5" y="1139.2">json</tspan><tspan x="3278.5" y="1150.9">arrayEncoder</tspan><tspan x="3278.5" y="1162.6">encode</tspan><tspan x="3278.5" y="1174.3">0 of 0.03s (1.33%)</tspan></text></g>
<g id="n-parkM" class="node k85"><rect x="297" y="1270" width="138" height="69"/><text class="f1"><tspan x="366" y="1287.3">runtime</tspan><tspan x="366" y="1301.9">park_m</tspan><tspan x="366" y="1316.5">0.01s (0.44%)</tspan><tspan x="366" y="1331.1">of 0.85s (37.61%)</tspan></text></g>
<g id="n-fdWrite" class="node k41"><rect x="805" y="1275" width="128" height="59"/><text class="f0"><tspan x="869" y="1290.7">poll</tspan><tspan x="869" y="1302.4">(*FD)</tspan><tspan x="869" y="1314.1">Write</tspan><tspan x="869" y="1325.8">0 of 0.41s (18.14%)</tspan></text></g>
<g id="n-withRetry" class="node k06"><rect x="990" y="1275" width="119" height="59"/><text class="f0"><tspan x="1049.5" y="1290.7">grpc</tspan><tspan x="1049.5" y="1302.4">(*clientStream)</tspan><tspan x="1049.5" y="1314.1">withRetry</tspan><tspan x="1049.5" y="1325.8">0 of 0.06s (2.65%)</tspan></text></g>
<g id="n-fastimeStore" class="node k15"><rect x="1145" y="1275" width="118" height="59"/><text class="f0"><tspan x="1204" y="1290.7">fastime</tspan><tspan x="1204" y="1302.4">(*fastime)</tspan><tspan x="1204" y="1314.1">store</tspan><tspan x="1204" y="1325.8">0 of 0.15s (6.64%)</tspan></text></g>
<g id="n-readFrame" class="node k08"><rect x="1477" y="1275" width="118" height="59"/><text class="f0"><tspan x="1536" y="1290.7">http2</tspan><tspan x="1536" y="1302.4">(*Framer)</tspan><tspan x="1536" y="1314.1">ReadFrame</tspan><tspan x="1536" y="1325.8">0 of 0.08s (3.54%)</tspan></text></g>
<g id="n-payload" class="node k03"><rect x="1777" y="1263" width="130" height="83"/><text class="f1"><tspan x="1842" y="1280">payload</tspan><tspan x="1842" y="1294.6">(*Info_Nodes)</tspan><tspan x="1842" y="1309.2">ProtoReflect</tspan><tspan x="1842" y="1323.8">0.01s (0.44%)</tspan><tspan x="1842" y="1338.4">of 0.03s (1.33%)</tspan></text></g>
<g id="n-marshalMessage" class="node k11"><rect x="2111" y="1275" width="119" height="59"/><text class="f0"><tspan x="2170.5" y="1290.7">prototext</tspan><tspan x="2170.5" y="1302.4">encoder</tspan><tspan x="2170.5" y="1314.1">marshalMessage</tspan><tspan x="2170.5" y="1325.8">0 of 0.11s (4.87%)</tspan></text></g>
<g id="n-profileBuild" class="node k04"><rect x="2914" y="1275" width="118" height="59"/><text class="f0"><tspan x="2973" y="1290.7">pprof</tspan><tspan x="2973" y="1302.4">(*profileBuilder)</tspan><tspan x="2973" y="1314.1">build</tspan><tspan x="2973" y="1325.8">0 of 0.04s (1.77%)</tspan></text></g>
<g id="n-stringEnc" class="node k03"><rect x="3139" y="1280" width="119" height="49"/><text class="f0"><tspan x="3198.5" y="1296.5">json</tspan><tspan x="3198.5" y="1308.2">stringEncoder</tspan><tspan x="3198.5" y="1319.9">0 of 0.03s (1.33%)</tspan></text></g>
<g id="n-schedule" class="node k85"><rect x="297" y="1445" width="138" height="70"/><text class="f1"><tspan x="366" y="1462.8">runtime</tspan><tspan x="366" y="1477.4">schedule</tspan><tspan x="366" y="1492">0.01s (0.44%)</tspan><tspan x="366" y="1506.6">of 0.84s (37.17%)</tspan></text></g>
<g id="n-selectgo" class="node k07"><rect x="459" y="1439" width="153" height="81"/><text class="f3"><tspan x="535.5" y="1458.9">runtime</tspan><tspan x="535.5" y="1476.4">selectgo</tspan><tspan x="535.5" y="1493.9">0.04s (1.77%)</tspan><tspan x="535.5" y="1511.4">of 0.07s (3.10%)</tspan></text></g>
<g id="n-appendFormat" class="node k07"><rect x="637" y="1443" width="144" height="74"/><text class="f2"><tspan x="709" y="1461.1">Time</tspan><tspan x="709" y="1477.1">appendFormat</tspan><tspan x="709" y="1493.1">0.02s (0.88%)</tspan><tspan x="709" y="1509.1">of 0.07s (3.10%)</tspan></text></g>
<g id="n-ignoringEINTRIO" class="node k47"><rect x="805" y="1456" width="128" height="48"/><text class="f0"><tspan x="869" y="1472">poll</tspan><tspan x="869" y="1483.7">ignoringEINTRIO</tspan><tspan x="869" y="1495.4">0 of 0.47s (20.80%)</tspan></text></g>
<g id="n-createHeaderFields" class="node k02"><rect x="1237" y="1437" width="156" height="85"/><text class="f1"><tspan x="1315" y="1455">transport</tspan><tspan x="1315" y="1469.6">(*http2Client)</tspan><tspan x="1315" y="1484.2">createHeaderFields</tspan><tspan x="1315" y="1498.8">0.01s (0.44%)</tspan><tspan x="1315" y="1513.4">of 0.02s (0.88%)</tspan></text></g>
<g id="n-newobject" class="node k16"><rect x="1579" y="1445" width="130" height="70"/><text class="f1"><tspan x="1644" y="1462.8">runtime</tspan><tspan x="1644" y="1477.4">newobject</tspan><tspan x="1644" y="1492">0.01s (0.44%)</tspan><tspan x="1644" y="1506.6">of 0.16s (7.08%)</tspan></text></g>
<g id="n-encodeState" class="node k03"><rect x="3126" y="1434" width="144" height="91"/><text class="f2"><tspan x="3198" y="1452.6">json</tspan><tspan x="3198" y="1468.6">(*encodeState)</tspan><tspan x="3198" y="1484.6">string</tspan><tspan x="3198" y="1500.6">0.02s (0.88%)</tspan><tspan x="3198" y="1516.6">of 0.03s (1.33%)</tspan></text></g>
<g id="n-execute" class="node k02"><rect x="136" y="1596" width="131" height="69"/><text class="f1"><tspan x="201.5" y="1613.3">runtime</tspan><tspan x="201.5" y="1627.9">execute</tspan><tspan x="201.5" y="1642.5">0.01s (0.44%)</tspan><tspan x="201.5" y="1657.1">of 0.02s (0.88%)</tspan></text></g>
<g id="n-findRunnable" class="node k80"><rect x="290" y="1593" width="153" height="74"/><text class="f2"><tspan x="366.5" y="1611.1">runtime</tspan><tspan x="366.5" y="1627.1">findRunnable</tspan><tspan x="366.5" y="1643.1">0.03s (1.33%)</tspan><tspan x="366.5" y="1659.1">of 0.80s (35.40%)</tspan></text></g>
<g id="n-nextStdChunk" class="node k05"><rect x="642" y="1599" width="135" height="64"/><text class="f3"><tspan x="709.5" y="1619.1">time</tspan><tspan x="709.5" y="1636.6">nextStdChunk</tspan><tspan x="709.5" y="1654.1">0.05s (2.21%)</tspan></text></g>
<g id="n-syscallSyscall" class="node k48"><rect x="805" y="1606" width="128" height="49"/><text class="f0"><tspan x="869" y="1622.5">syscall</tspan><tspan x="869" y="1634.2">Syscall</tspan><tspan x="869" y="1645.9">0 of 0.48s (21.24%)</tspan></text></g>
<g id="n-mallocgc" class="node k26"><rect x="1575" y="1596" width="138" height="69"/><text class="f1"><tspan x="1644" y="1613.3">runtime</tspan><tspan x="1644" y="1627.9">mallocgc</tspan><tspan x="1644" y="1642.5">0.01s (0.44%)</tspan><tspan x="1644" y="1657.1">of 0.26s (11.50%)</tspan></text></g>
<g id="n-syscall6" class="node k111"><rect x="290" y="1756" width="264" height="115"/><text class="f6"><tspan x="422" y="1789.7">syscall</tspan><tspan x="422" y="1824.7">Syscall6</tspan><tspan x="422" y="1859.7">1.11s (49.12%)</tspan></text></g>
<g id="n-checkTimers" class="node k10"><rect x="148" y="1790" width="119" height="47"/><text class="f0"><tspan x="207.5" y="1805.5">runtime</tspan><tspan x="207.5" y="1817.2">checkTimers</tspan><tspan x="207.5" y="1828.9">0 of 0.10s (4.42%)</tspan></text></g>
<g id="n-acquirem" class="node k02"><rect x="714" y="1784" width="126" height="59"/><text class="f2"><tspan x="777" y="1802.6">runtime</tspan><tspan x="777" y="1818.6">acquirem</tspan><tspan x="777" y="1834.6">0.02s (0.88%)</tspan></text></g>
<g id="n-nextFreeFast" class="node k04"><rect x="1281" y="1782" width="132" height="62"/><text class="f3"><tspan x="1347" y="1801.1">runtime</tspan><tspan x="1347" y="1818.6">nextFreeFast</tspan><tspan x="1347" y="1836.1">0.04s (1.77%)</tspan></text></g>
<g id="n-nextFree" class="node k07"><rect x="1437" y="1771" width="129" height="85"/><text class="f1"><tspan x="1501.5" y="1789">runtime</tspan><tspan x="1501.5" y="1803.6">(*mcache)</tspan><tspan x="1501.5" y="1818.2">nextFree</tspan><tspan x="1501.5" y="1832.8">0.01s (0.44%)</tspan><tspan x="1501.5" y="1847.4">of 0.07s (3.10%)</tspan></text></g>
<g id="n-heapBitsSetType" class="node k11"><rect x="1641" y="1773" width="158" height="80"/><text class="f3"><tspan x="1720" y="1792.4">runtime</tspan><tspan x="1720" y="1809.9">heapBitsSetType</tspan><tspan x="1720" y="1827.4">0.05s (2.21%)</tspan><tspan x="1720" y="1844.9">of 0.11s (4.87%)</tspan></text></g>
<g id="n-runtimer" class="node k08"><rect x="135" y="1967" width="146" height="74"/><text class="f2"><tspan x="208" y="1985.1">runtime</tspan><tspan x="208" y="2001.1">runtimer</tspan><tspan x="208" y="2017.1">0.02s (0.88%)</tspan><tspan x="208" y="2033.1">of 0.08s (3.54%)</tspan></text></g>
<g id="n-nanotime" class="node k02"><rect x="303" y="1975" width="126" height="58"/><text class="f2"><tspan x="366" y="1993.1">runtime</tspan><tspan x="366" y="2009.1">nanotime</tspan><tspan x="366" y="2025.1">0.02s (0.88%)</tspan></text></g>
<g id="n-refill" class="node k06"><rect x="1441" y="1975" width="120" height="58"/><text class="f0"><tspan x="1501" y="1990.2">runtime</tspan><tspan x="1501" y="2001.9">(*mcache)</tspan><tspan x="1501" y="2013.6">refill</tspan><tspan x="1501" y="2025.3">0 of 0.06s (2.65%)</tspan></text></g>
<g id="n-writeHeapBits" class="node k04"><rect x="1648" y="1959" width="144" height="90"/><text class="f2"><tspan x="1720" y="1977.1">runtime</tspan><tspan x="1720" y="1993.1">writeHeapBits</tspan><tspan x="1720" y="2009.1">flush</tspan><tspan x="1720" y="2025.1">0.03s (1.33%)</tspan><tspan x="1720" y="2041.1">of 0.04s (1.77%)</tspan></text></g>
<g id="n-runOneTimer" class="node k06"><rect x="135" y="2117" width="146" height="75"/><text class="f2"><tspan x="208" y="2135.6">runtime</tspan><tspan x="208" y="2151.6">runOneTimer</tspan><tspan x="208" y="2167.6">0.03s (1.33%)</tspan><tspan x="208" y="2183.6">of 0.06s (2.65%)</tspan></text></g>
<g id="n-systemstack" class="node k08"><rect x="1021" y="2130" width="119" height="49"/><text class="f0"><tspan x="1080.5" y="2146.5">runtime</tspan><tspan x="1080.5" y="2158.2">systemstack</tspan><tspan x="1080.5" y="2169.9">0 of 0.08s (3.54%)</tspan></text></g>
<g id="n-uncacheSpan" class="node k04"><rect x="1441" y="2126" width="120" height="58"/><text class="f0"><tspan x="1501" y="2141.2">runtime</tspan><tspan x="1501" y="2152.9">(*mcentral)</tspan><tspan x="1501" y="2164.6">uncacheSpan</tspan><tspan x="1501" y="2176.3">0 of 0.04s (1.77%)</tspan></text></g>
<g id="n-sendTime" class="node k03"><rect x="148" y="2298" width="119" height="49"/><text class="f0"><tspan x="207.5" y="2314.5">time</tspan><tspan x="207.5" y="2326.2">sendTime</tspan><tspan x="207.5" y="2337.9">0 of 0.03s (1.33%)</tspan></text></g>
<g id="n-unlock2" class="node k02"><rect x="537" y="2288" width="130" height="68"/><text class="f1"><tspan x="602" y="2304.8">runtime</tspan><tspan x="602" y="2319.4">unlock2</tspan><tspan x="602" y="2334">0.01s (0.44%)</tspan><tspan x="602" y="2348.6">of 0.02s (0.88%)</tspan></text></g>
<g id="n-initSpan" class="node k02"><rect x="925" y="2280" width="129" height="83"/><text class="f1"><tspan x="989.5" y="2297">runtime</tspan><tspan x="989.5" y="2311.6">(*mheap)</tspan><tspan x="989.5" y="2326.2">initSpan</tspan><tspan x="989.5" y="2340.8">0.01s (0.44%)</tspan><tspan x="989.5" y="2355.4">of 0.02s (0.88%)</tspan></text></g>
<g id="n-step" class="node k03"><rect x="1078" y="2292" width="126" height="59"/><text class="f2"><tspan x="1141" y="2310.6">runtime</tspan><tspan x="1141" y="2326.6">step</tspan><tspan x="1141" y="2342.6">0.03s (1.33%)</tspan></text></g>
<g id="n-spanSetPush" class="node k02"><rect x="1291" y="2285" width="125" height="73"/><text class="f2"><tspan x="1353.5" y="2302.6">runtime</tspan><tspan x="1353.5" y="2318.6">(*spanSet)</tspan><tspan x="1353.5" y="2334.6">push</tspan><tspan x="1353.5" y="2350.6">0.02s (0.88%)</tspan></text></g>
<g id="n-fullSwept" class="node k02"><rect x="1440" y="2285" width="126" height="73"/><text class="f2"><tspan x="1503" y="2302.6">runtime</tspan><tspan x="1503" y="2318.6">(*mcentral)</tspan><tspan x="1503" y="2334.6">fullSwept</tspan><tspan x="1503" y="2350.6">0.02s (0.88%)</tspan></text></g>
<g id="n-timeNow" class="node k02"><rect x="5" y="2431" width="125" height="59"/><text class="f2"><tspan x="67.5" y="2449.6">time</tspan><tspan x="67.5" y="2465.6">Now</tspan><tspan x="67.5" y="2481.6">0.02s (0.88%)</tspan></text></g>
<g id="n-memclr" class="node k02"><rect x="1332" y="2431" width="203" height="59"/><text class="f2"><tspan x="1433.5" y="2449.6">runtime</tspan><tspan x="1433.5" y="2465.6">memclrNoHeapPointers</tspan><tspan x="1433.5" y="2481.6">0.02s (0.88%)</tspan></text></g>
</g>
</svg>
